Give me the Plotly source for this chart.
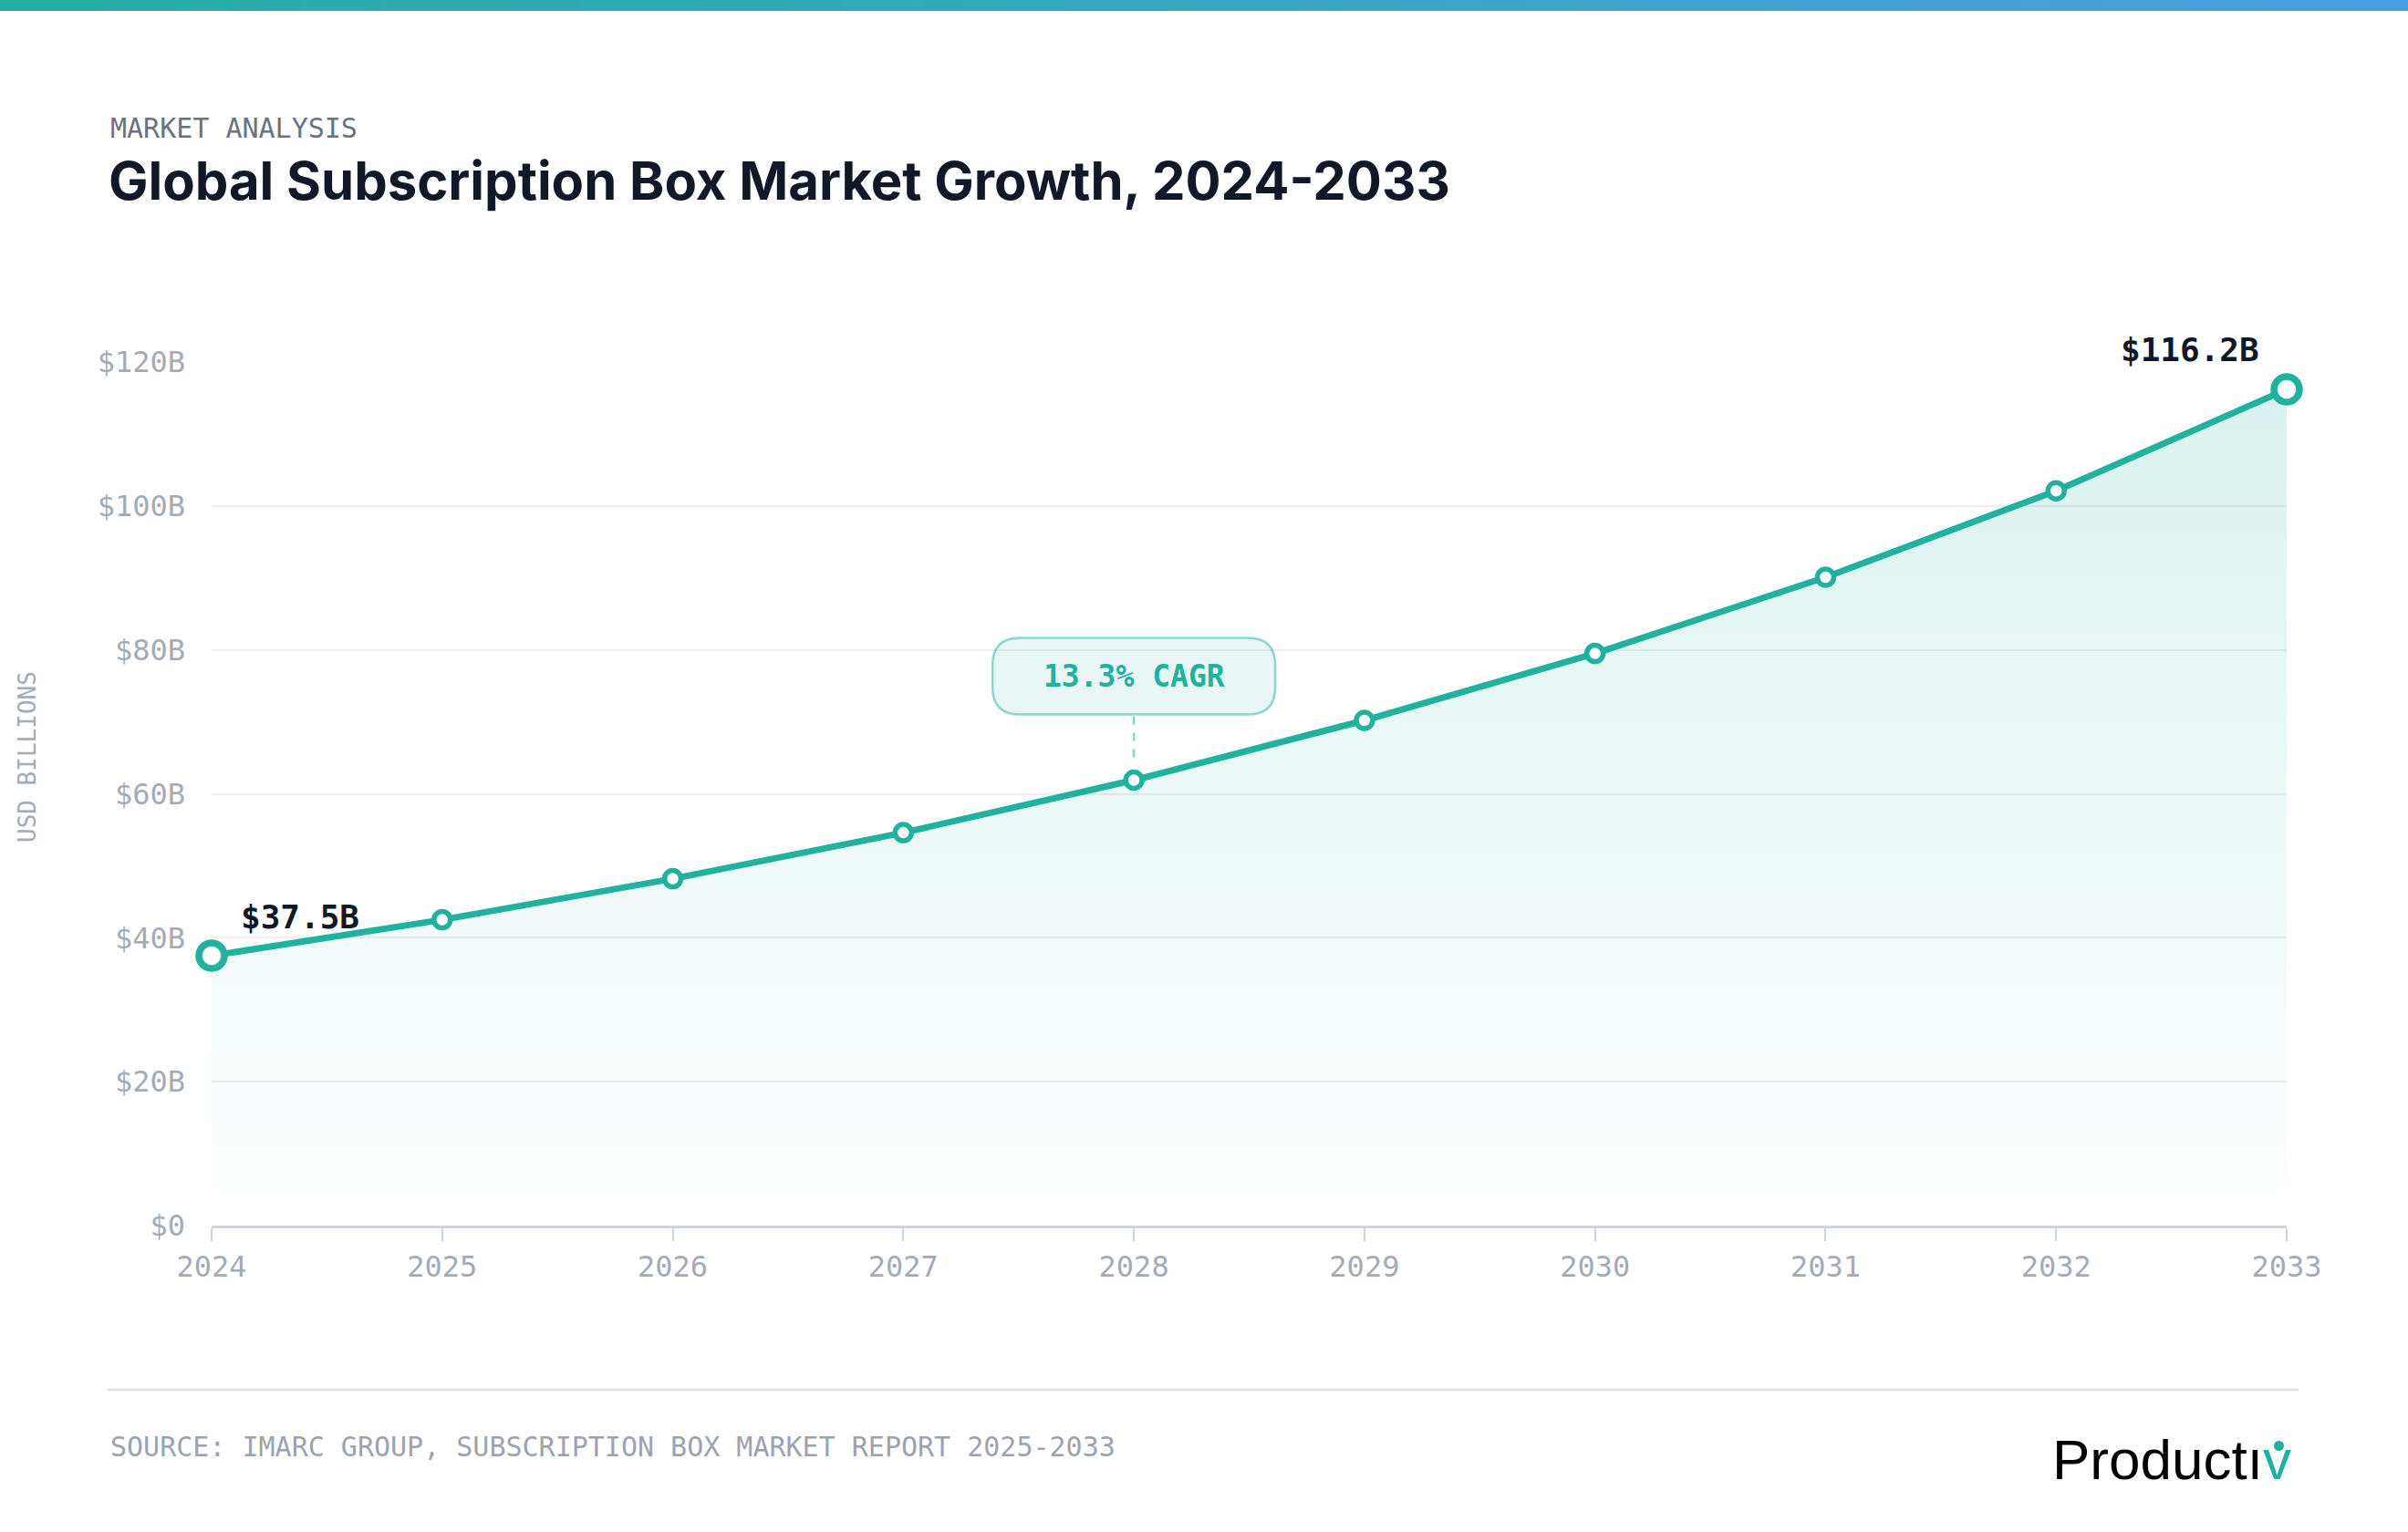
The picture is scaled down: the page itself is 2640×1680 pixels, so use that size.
import plotly.graph_objects as go

# ---------------- data ----------------
years = [2024, 2025, 2026, 2027, 2028, 2029, 2030, 2031, 2032, 2033]
values = [37.5, 42.5, 48.2, 54.6, 61.9, 70.2, 79.5, 90.1, 102.1, 116.2]
y_tick_values = [0, 20, 40, 60, 80, 100, 120]
y_tick_labels = ["$0", "$20B", "$40B", "$60B", "$80B", "$100B", "$120B"]
x_tick_labels = [str(y) for y in years]
cagr_label = "13.3% CAGR"
cagr_year_index = 4
kicker = "MARKET ANALYSIS"
title = "Global Subscription Box Market Growth, 2024-2033"
y_title = "USD BILLIONS"
source = "SOURCE: IMARC GROUP, SUBSCRIPTION BOX MARKET REPORT 2025-2033"

# ---------------- geometry / style ----------------
FW, FH = 2640, 1680
L, R, T, B = 232, 2507, 397, 1344
PW, PH = R - L, B - T
XR = [years[0], years[-1]]
YR = [0, 120]
TEAL = "#21b19f"
MONO = "DejaVu Sans Mono"
SANS = "Inter"


def px(x):
    return (x - L) / PW


def py(y):
    return (B - y) / PH


def x_to_pix(v):
    return L + (v - XR[0]) / (XR[1] - XR[0]) * PW


def y_to_pix(v):
    return B - (v - YR[0]) / (YR[1] - YR[0]) * PH


def pix_to_x(p):
    return XR[0] + (p - L) / PW * (XR[1] - XR[0])


def pix_to_y(p):
    return YR[0] + (B - p) / PH * (YR[1] - YR[0])


fig = go.Figure()

# area fill with vertical gradient
fig.add_trace(go.Scatter(
    x=years, y=values, mode="lines", line=dict(width=0, color=TEAL),
    fill="tozeroy",
    fillgradient=dict(type="vertical",
                      colorscale=[[0, "rgba(33,177,159,0.0)"], [1, "rgba(33,177,159,0.17)"]],
                      start=0, stop=max(values)),
    hoverinfo="skip", showlegend=False, cliponaxis=False,
))

# line
fig.add_trace(go.Scatter(
    x=years, y=values, mode="lines",
    line=dict(color=TEAL, width=7),
    showlegend=False, cliponaxis=False,
))

# intermediate markers
fig.add_trace(go.Scatter(
    x=years[1:-1], y=values[1:-1], mode="markers",
    marker=dict(size=18, color="#ffffff", opacity=1,
                line=dict(color=TEAL, width=5.5)),
    showlegend=False, cliponaxis=False,
))
# endpoint markers
fig.add_trace(go.Scatter(
    x=[years[0], years[-1]], y=[values[0], values[-1]], mode="markers",
    marker=dict(size=28, color="#ffffff", opacity=1,
                line=dict(color=TEAL, width=7.5)),
    showlegend=False, cliponaxis=False,
))

shapes = []
annotations = []

# top gradient bar
c0 = (38, 175, 163)
c1 = (74, 158, 224)
NB = 120
for i in range(NB):
    t = i / (NB - 1)
    col = tuple(round(c0[k] + (c1[k] - c0[k]) * t) for k in range(3))
    x0 = FW * i / NB
    x1 = FW * (i + 1) / NB + 1
    shapes.append(dict(type="rect", xref="paper", yref="paper",
                       x0=px(x0), x1=px(x1), y0=py(0), y1=py(12),
                       fillcolor="rgb(%d,%d,%d)" % col, line=dict(width=0), layer="above"))

# CAGR callout box (rounded rectangle) above the 2028 point
cx = years[cagr_year_index]
cy = values[cagr_year_index]
cpx = x_to_pix(cx)
cpy = y_to_pix(cy)
bw, bh, rr = 310, 84, 30
bx0, bx1 = cpx - bw / 2, cpx + bw / 2
by1 = cpy - 72
by0 = by1 - bh


def P(xp, yp):
    return "%f,%f" % (pix_to_x(xp), pix_to_y(yp))


path = ("M " + P(bx0 + rr, by0) + " L " + P(bx1 - rr, by0) +
        " Q " + P(bx1, by0) + " " + P(bx1, by0 + rr) +
        " L " + P(bx1, by1 - rr) +
        " Q " + P(bx1, by1) + " " + P(bx1 - rr, by1) +
        " L " + P(bx0 + rr, by1) +
        " Q " + P(bx0, by1) + " " + P(bx0, by1 - rr) +
        " L " + P(bx0, by0 + rr) +
        " Q " + P(bx0, by0) + " " + P(bx0 + rr, by0) + " Z")
shapes.append(dict(type="path", xref="x", yref="y", path=path,
                   fillcolor="rgba(33,177,159,0.10)",
                   line=dict(color="rgba(33,177,159,0.5)", width=2.5), layer="above"))
shapes.append(dict(type="line", xref="x", yref="y",
                   x0=cx, x1=cx, y0=pix_to_y(by1 + 2), y1=pix_to_y(cpy - 18),
                   line=dict(color="rgba(33,177,159,0.55)", width=2.5, dash="dash"), layer="above"))
annotations.append(dict(x=cx, y=pix_to_y((by0 + by1) / 2), xref="x", yref="y",
                        text="<b>%s</b>" % cagr_label, showarrow=False,
                        font=dict(family=MONO, size=33, color=TEAL),
                        xanchor="center", yanchor="middle"))

# endpoint value labels
annotations.append(dict(x=years[0], y=values[0], xref="x", yref="y",
                        text="<b>$%sB</b>" % values[0], showarrow=False,
                        font=dict(family=MONO, size=36, color="#111827"),
                        xanchor="left", yanchor="middle", xshift=30, yshift=43))
annotations.append(dict(x=years[-1], y=values[-1], xref="x", yref="y",
                        text="<b>$%sB</b>" % values[-1], showarrow=False,
                        font=dict(family=MONO, size=36, color="#111827"),
                        xanchor="right", yanchor="middle", xshift=-28, yshift=43))

# y-axis title
annotations.append(dict(x=px(30), y=py(830), xref="paper", yref="paper",
                        text=y_title, textangle=-90, showarrow=False,
                        font=dict(family=MONO, size=26, color="#a3aab8"),
                        xanchor="center", yanchor="middle"))

# heading
annotations.append(dict(x=px(119), y=py(140), xref="paper", yref="paper",
                        text=kicker, showarrow=False,
                        font=dict(family=MONO, size=30, color="#6b7280"),
                        xanchor="left", yanchor="middle"))
annotations.append(dict(x=px(117), y=py(198), xref="paper", yref="paper",
                        text=title, showarrow=False,
                        font=dict(family=SANS, size=58, color="#111827", weight=700),
                        xanchor="left", yanchor="middle"))

# footer
shapes.append(dict(type="line", xref="paper", yref="paper",
                   x0=px(118), x1=px(2520), y0=py(1524), y1=py(1524),
                   line=dict(color="#dfe2e7", width=3)))
annotations.append(dict(x=px(119), y=py(1586), xref="paper", yref="paper",
                        text=source, showarrow=False,
                        font=dict(family=MONO, size=30, color="#9ca3af"),
                        xanchor="left", yanchor="middle"))
annotations.append(dict(x=px(2514), y=py(1600), xref="paper", yref="paper",
                        text="Productı<span style='color:%s'>v</span>" % TEAL, showarrow=False,
                        font=dict(family="Liberation Sans", size=62, color="#000000"),
                        xanchor="right", yanchor="middle"))
shapes.append(dict(type="circle", xref="paper", yref="paper",
                   x0=px(2493), x1=px(2504), y0=py(1580), y1=py(1591),
                   fillcolor=TEAL, line=dict(width=0)))

fig.update_layout(
    width=FW, height=FH, autosize=False,
    margin=dict(l=L, r=FW - R, t=T, b=FH - B, pad=0),
    paper_bgcolor="white", plot_bgcolor="white",
    showlegend=False,
    shapes=shapes, annotations=annotations,
    xaxis=dict(range=XR, tickvals=years, ticktext=x_tick_labels,
               showgrid=False, zeroline=False,
               showline=True, linecolor="#cfd4dc", linewidth=3,
               ticks="outside", ticklen=14, tickwidth=2, tickcolor="#cfd4dc",
               tickfont=dict(family=MONO, size=32, color="#a3aab8"),
               ticklabelstandoff=1, fixedrange=True),
    yaxis=dict(range=YR, tickvals=y_tick_values, ticktext=y_tick_labels,
               showgrid=True, gridcolor="#eceef1", gridwidth=2,
               zeroline=False, showline=False, ticks="",
               tickfont=dict(family=MONO, size=32, color="#a3aab8"),
               ticklabelstandoff=28, fixedrange=True),
    hovermode=False,
)

fig.write_html("out.html", config={"displayModeBar": False},
               post_script="document.body.style.margin='0';document.body.style.overflow='hidden';")
